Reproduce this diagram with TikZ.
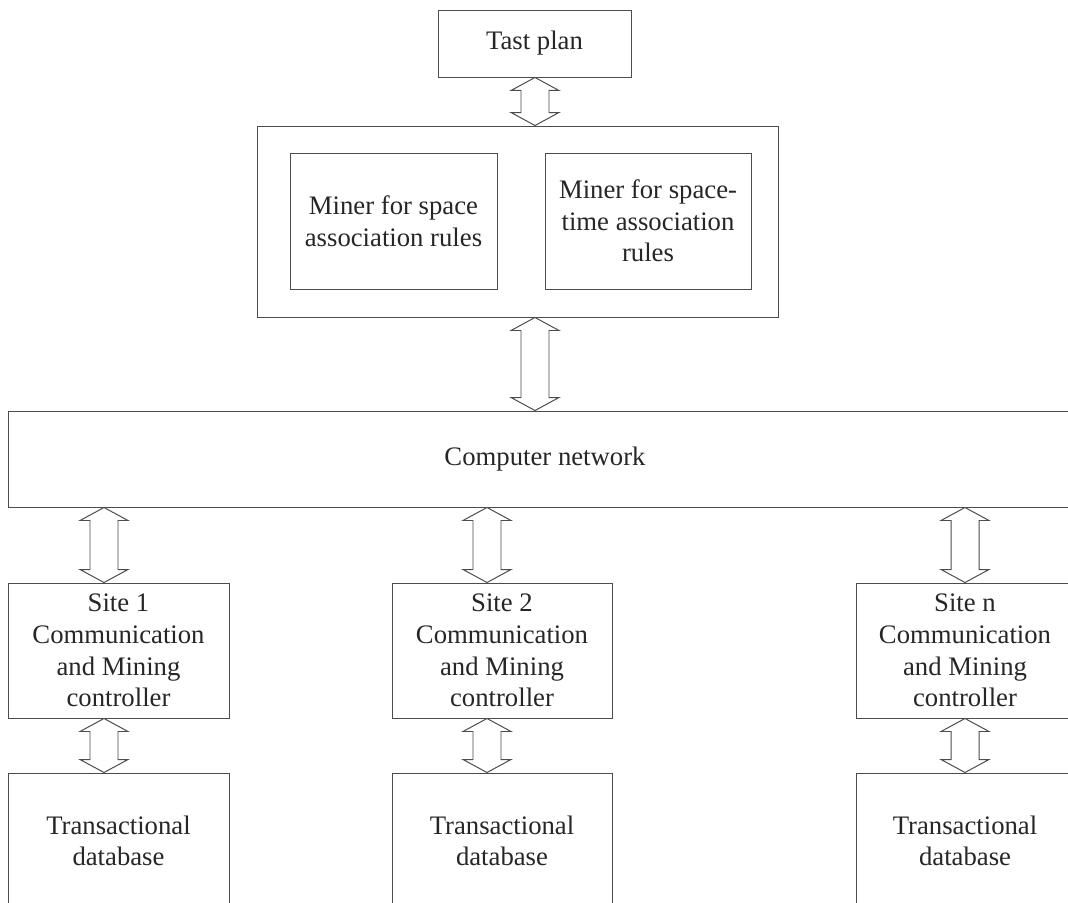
\documentclass[tikz,border=0pt]{standalone}
\usepackage{fontspec}
\setmainfont{Liberation Serif}
\usepackage{xcolor}
\usepackage{tikz}
\usetikzlibrary{calc}

% hollow double-headed block arrow: #1 = x guide, #2 = upper anchor, #3 = lower anchor
\newcommand{\dblarrow}[3]{%
    \draw [arrow_line] (#2 -| #1) -- ++(0.6,-0.325) -- ++(-0.25,0)
        -- ($(#3 -| #1)+(0.35,0.325)$) -- ++(0.25,0) -- (#3 -| #1)
        -- ++(-0.6,0.325) -- ++(0.25,0)
        -- ($(#2 -| #1)+(-0.35,-0.325)$) -- ++(-0.25,0) -- cycle;}

\begin{document}
\begin{tikzpicture}[
    box/.style={draw=black!70, line width=0.7pt, rectangle, align=center, text=black!85, font=\fontsize{19}{22.5}\selectfont},
    arrow_line/.style={draw=black!70, line width=0.7pt, fill=white, line join=miter}
]
    \useasboundingbox (0,0) rectangle (26.7,-22.575);
    \clip (0,0) rectangle (26.7,-22.575);

    % Plan and miners
    \node (plan) [box, minimum width=4.825cm, minimum height=1.675cm] at (13.3625,-1.0875) {Tast plan};
    \node (miners) [box, minimum width=13.025cm, minimum height=4.775cm] at (12.9375,-5.5375) {};
    \node (minerS) [box, minimum width=5.175cm, minimum height=3.4cm] at (9.8375,-5.525) {Miner for space\\association rules};
    \node (minerST) [box, minimum width=5.15cm, minimum height=3.4cm] at (16.2,-5.525) {Miner for space-\\time association\\rules};

    % Network
    \node (net) [box, minimum width=26.85cm, minimum height=2.4cm] at (13.625,-11.475) {Computer network};

    % Sites
    \node (site1) [box, minimum width=5.525cm, minimum height=3.375cm] at (2.9625,-16.2625) {Site 1\\Communication\\and Mining\\controller};
    \node (site2) [box, minimum width=5.5cm, minimum height=3.375cm] at (12.55,-16.2625) {Site 2\\Communication\\and Mining\\controller};
    \node (siten) [box, minimum width=5.45cm, minimum height=3.375cm] at (24.125,-16.2625) {Site n\\Communication\\and Mining\\controller};

    % Databases
    \node (db1) [box, minimum width=5.525cm, minimum height=3.4cm] at (2.9625,-21.025) {Transactional\\database};
    \node (db2) [box, minimum width=5.5cm, minimum height=3.4cm] at (12.55,-21.025) {Transactional\\database};
    \node (dbn) [box, minimum width=5.45cm, minimum height=3.4cm] at (24.125,-21.025) {Transactional\\database};

    % Arrow guides
    \coordinate (ax0) at (13.375,0);
    \coordinate (ax1) at (2.6,0);
    \coordinate (ax2) at (12.175,0);
    \coordinate (axn) at (24.125,0);

    % Arrows
    \dblarrow{ax0}{plan.south}{miners.north}
    \dblarrow{ax0}{miners.south}{net.north}
    \dblarrow{ax1}{net.south}{site1.north}
    \dblarrow{ax2}{net.south}{site2.north}
    \dblarrow{axn}{net.south}{siten.north}
    \dblarrow{ax1}{site1.south}{db1.north}
    \dblarrow{ax2}{site2.south}{db2.north}
    \dblarrow{axn}{siten.south}{dbn.north}
\end{tikzpicture}
\end{document}
